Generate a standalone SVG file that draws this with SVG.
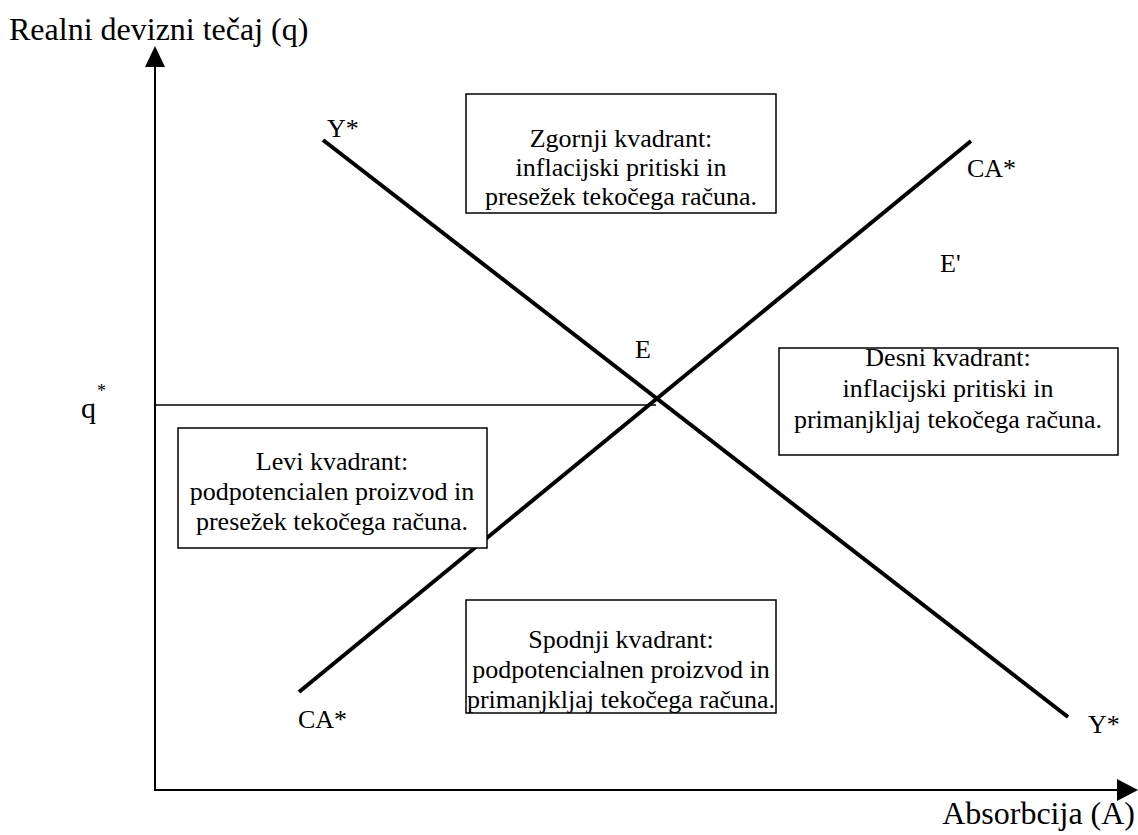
<svg xmlns="http://www.w3.org/2000/svg" width="1138" height="835" viewBox="0 0 1138 835">
<style>
text{font-family:"Liberation Serif","Times New Roman",serif;font-size:26px;fill:#000}
.box{fill:#fff;stroke:#000;stroke-width:1.5}
.c{text-anchor:middle}
.axis{stroke:#000;stroke-width:2;fill:none}
.curve{stroke:#000;stroke-width:4;fill:none}
</style>
<rect width="1138" height="835" fill="#fff"/>
<g id="connectors">
<line class="axis" x1="155" y1="791" x2="155" y2="66"/>
<polygon points="155,46 145,67 165,67" fill="#000"/>
<line class="axis" x1="155" y1="790" x2="1118" y2="790"/>
<polygon points="1138,790 1117,779 1117,801" fill="#000"/>
<line x1="155" y1="405" x2="656" y2="405" stroke="#000" stroke-width="1.5"/>
<line id="ystar" class="curve" x1="323" y1="140" x2="1068" y2="717"/>
<line id="castar" class="curve" x1="299" y1="692" x2="971" y2="141"/>
</g>
<g id="axis-labels">
<text x="9" y="40" style="font-size:32px">Realni devizni tečaj (q)</text>
<text x="1135" y="824" text-anchor="end" style="font-size:32px">Absorbcija (A)</text>
<text x="81" y="418" style="font-size:30px">q</text>
<text x="97" y="397" style="font-size:18px">*</text>
</g>
<g id="curve-labels">
<text x="327" y="137">Y*</text>
<text x="967" y="177">CA*</text>
<text x="298" y="728">CA*</text>
<text x="1088" y="733">Y*</text>
<text x="635" y="358">E</text>
<text x="940" y="272">E'</text>
</g>
<g id="zgornji">
<rect class="box" x="466" y="94" width="310" height="119"/>
<text class="c" x="621" y="147">Zgornji kvadrant:</text>
<text class="c" x="621" y="176">inflacijski pritiski in</text>
<text class="c" x="621" y="205">presežek tekočega računa.</text>
</g>
<g id="desni">
<rect class="box" x="779" y="348" width="339" height="107"/>
<text class="c" x="948" y="366">Desni kvadrant:</text>
<text class="c" x="948" y="397">inflacijski pritiski in</text>
<text class="c" x="948" y="428">primanjkljaj tekočega računa.</text>
</g>
<g id="levi">
<rect class="box" x="178" y="428" width="309" height="120"/>
<text class="c" x="332" y="470">Levi kvadrant:</text>
<text class="c" x="332" y="500">podpotencialen proizvod in</text>
<text class="c" x="332" y="530">presežek tekočega računa.</text>
</g>
<g id="spodnji">
<rect class="box" x="466" y="600" width="310" height="113"/>
<text class="c" x="621" y="648">Spodnji kvadrant:</text>
<text class="c" x="621" y="678">podpotencialnen proizvod in</text>
<text class="c" x="621" y="708">primanjkljaj tekočega računa.</text>
</g>
</svg>
